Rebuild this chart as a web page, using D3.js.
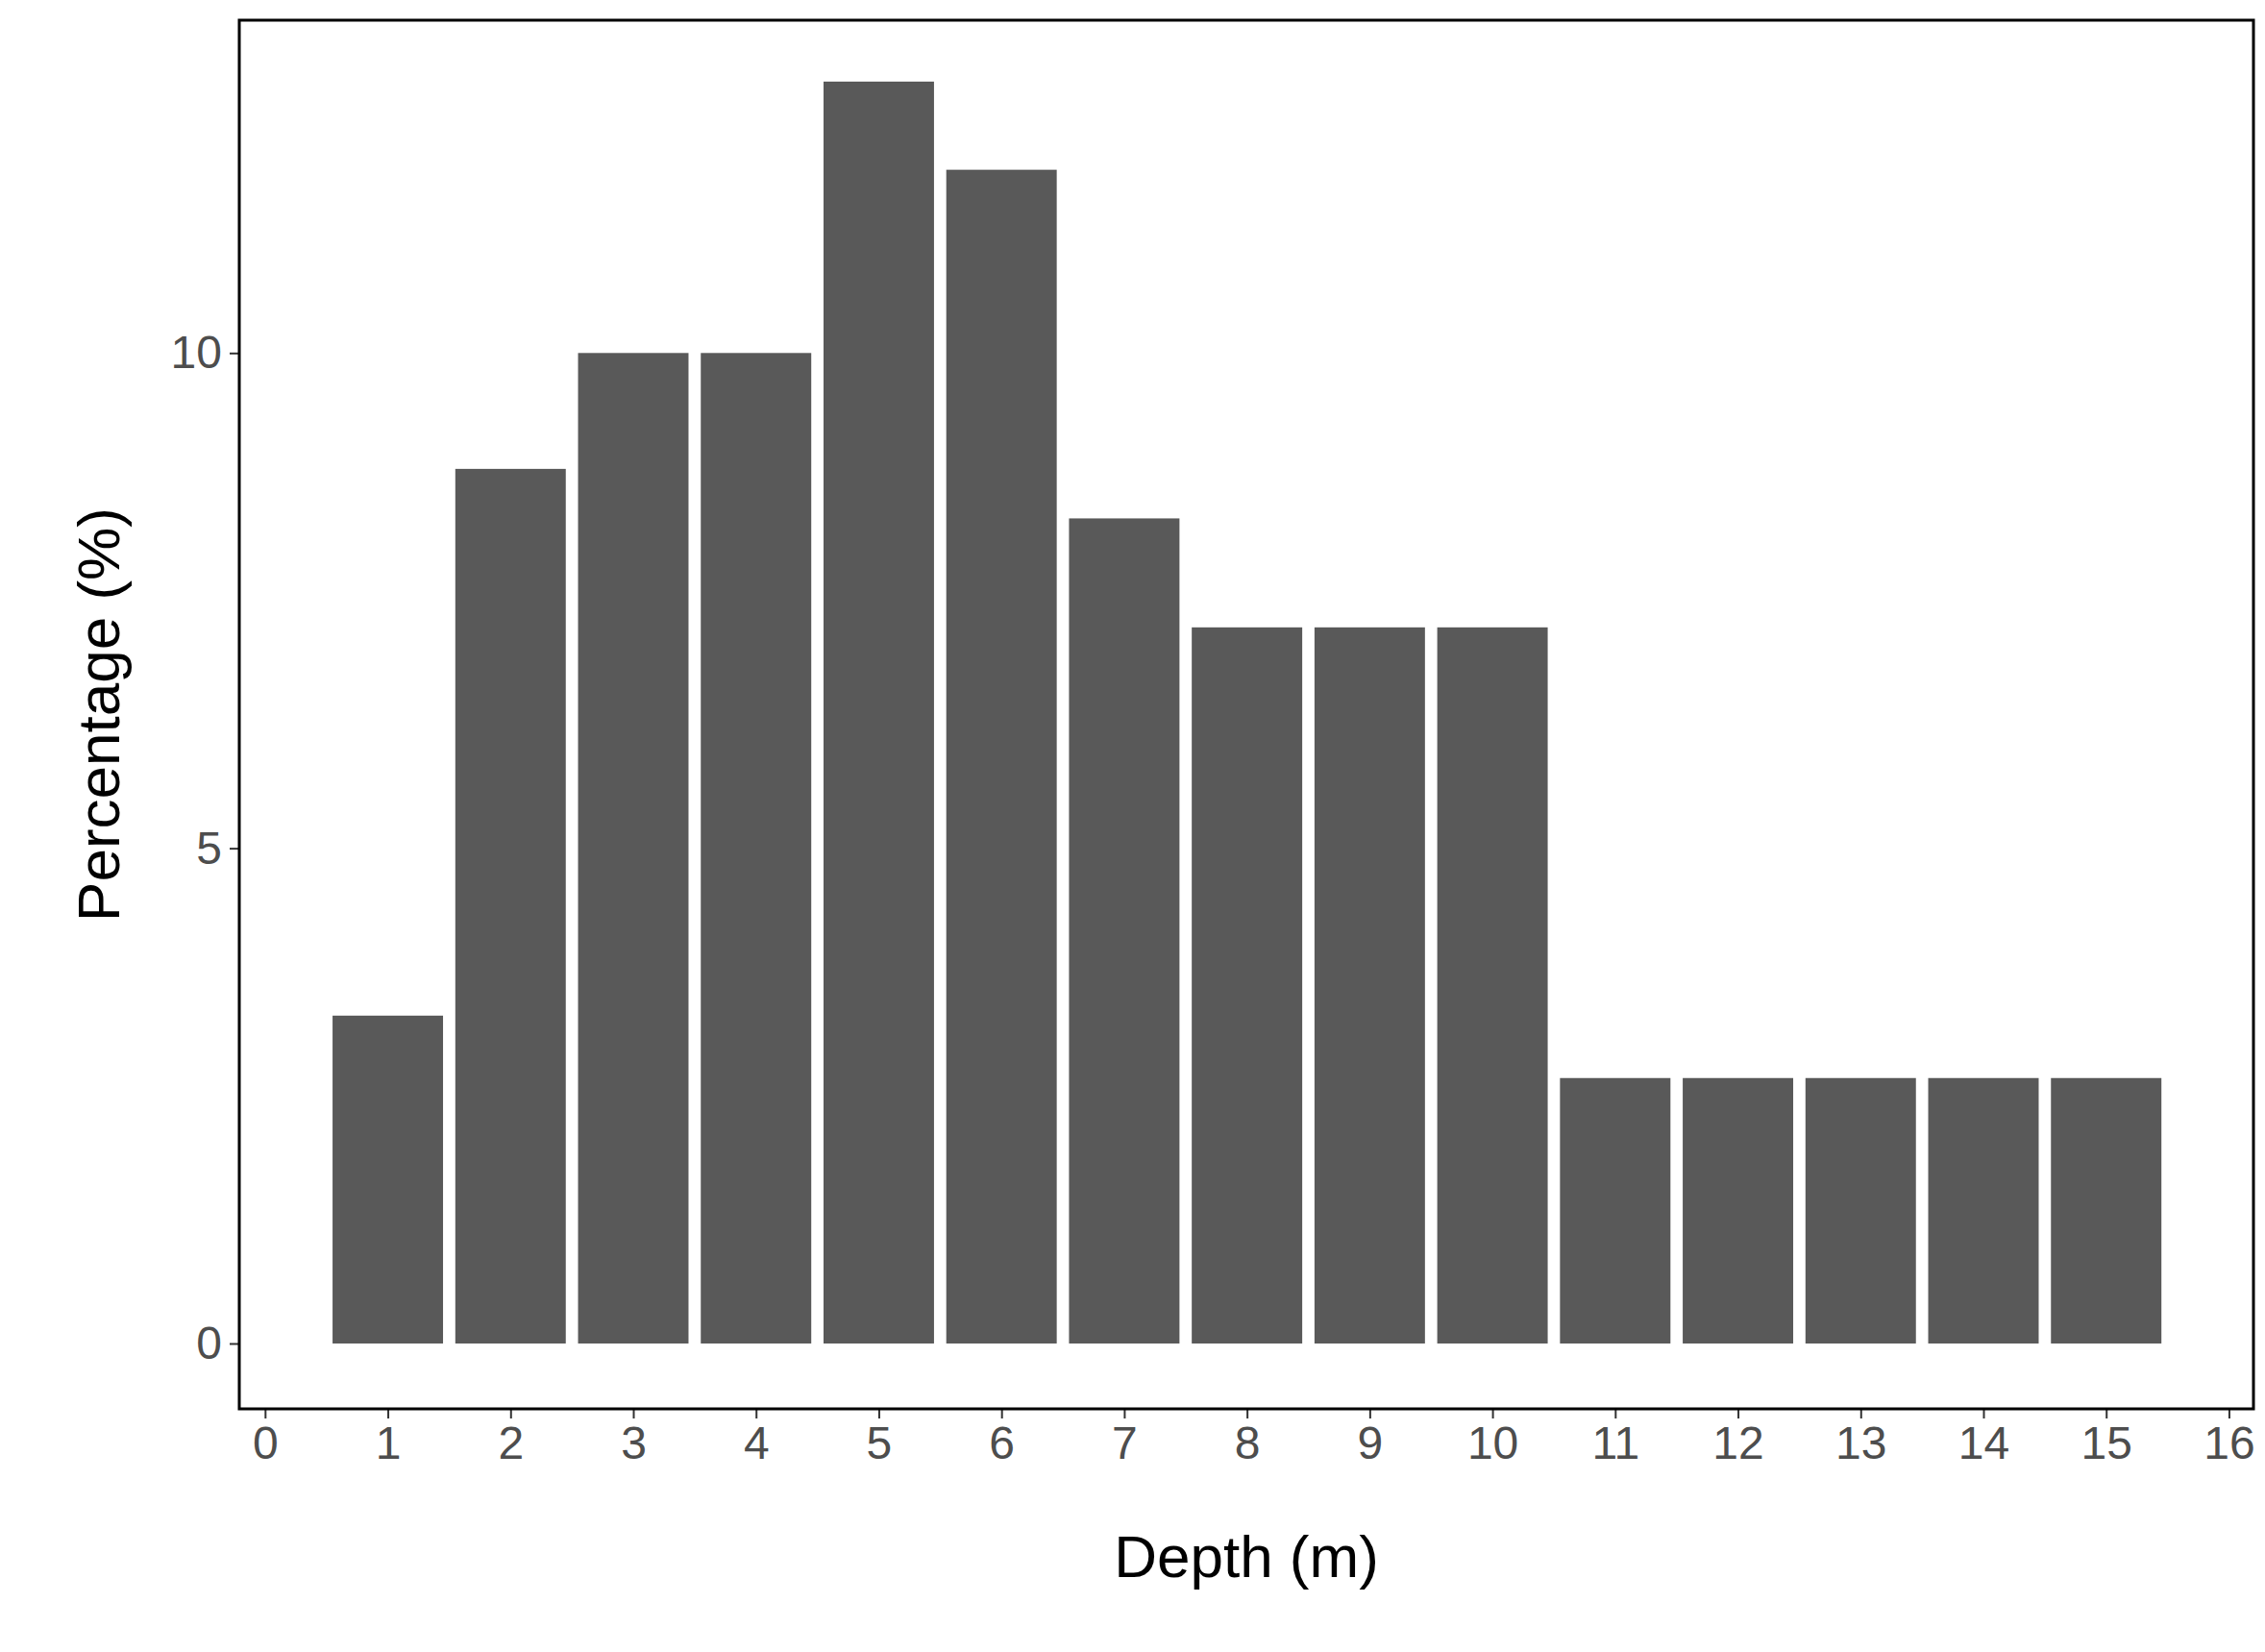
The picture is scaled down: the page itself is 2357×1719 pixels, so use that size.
<!DOCTYPE html>
<meta charset="utf-8">
<script src="https://d3js.org/d3.v7.min.js"></script>
<style>
body { margin:0; background:#fff; }
.axis text { font-family: Arial, "Liberation Sans", sans-serif; font-size:48px; fill:#4d4d4d; }
.axis line { stroke:#333; stroke-width:2px; }
.axis path { display:none; }
.title { font-family: Arial, "Liberation Sans", sans-serif; font-size:62px; fill:#000; }
</style>
<body></body>
<script>
var depths = [1,2,3,4,5,6,7,8,9,10,11,12,13,14,15];
var percents = [3.31,8.83,10.0,10.0,12.74,11.85,8.33,7.23,7.23,7.23,2.68,2.68,2.68,2.68,2.68];
var xTicks = d3.range(0,17);
var yTicks = [0,5,10];

var W = 2357, H = 1719;
var margin = {top:21, right:12, bottom:253, left:249};
var width = W - margin.left - margin.right, height = H - margin.top - margin.bottom;

var svg = d3.select('body').append('svg').attr('width', W).attr('height', H)
  .append('g').attr('transform', 'translate(' + margin.left + ',' + margin.top + ')');

var x = d3.scaleLinear().domain([-0.21, 16.2]).range([0, width]);
var y = d3.scaleLinear().domain([-0.66, 13.36]).range([height, 0]);

svg.selectAll('.bar').data(depths).enter().append('rect')
  .attr('x', function(d) { return x(d - 0.45); })
  .attr('width', function(d) { return x(0.9) - x(0); })
  .attr('y', function(d, i) { return y(percents[i]); })
  .attr('height', function(d, i) { return y(0) - y(percents[i]); })
  .style('fill', '#595959');

svg.append('g').attr('class', 'x axis')
  .attr('transform', 'translate(0,' + height + ')')
  .call(d3.axisBottom(x).tickValues(xTicks).tickSize(10).tickPadding(8));

svg.append('g').attr('class', 'y axis')
  .call(d3.axisLeft(y).tickValues(yTicks).tickSize(10).tickPadding(8));

svg.append('rect').attr('width', width).attr('height', height)
  .style('fill', 'none').style('stroke', '#000').style('stroke-width', 3);

svg.append('text').attr('class', 'title').attr('text-anchor', 'middle')
  .attr('x', width / 2).attr('y', height + 175).text('Depth (m)');

svg.append('text').attr('class', 'title').attr('text-anchor', 'middle')
  .attr('transform', 'translate(-125,' + height / 2 + ') rotate(-90)').text('Percentage (%)');
</script>
